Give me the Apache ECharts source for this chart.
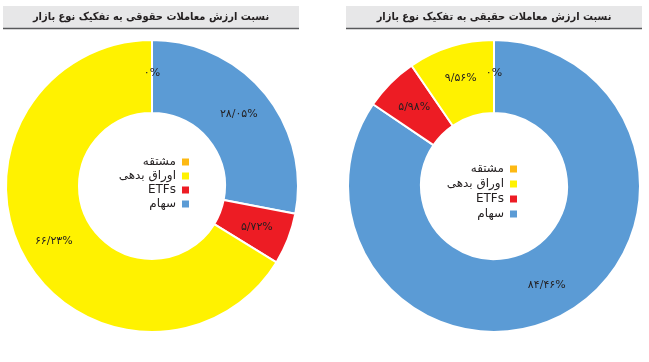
<!DOCTYPE html>
<html>
<head>
<meta charset="utf-8">
<script src="https://cdn.jsdelivr.net/npm/echarts@6/dist/echarts.min.js"></script>
<style>html,body{margin:0;padding:0;background:#fff;}#c{width:649px;height:362px;}</style>
</head>
<body>
<div id="c"></div>
<script>
const categories = ['سهام', 'ETFs', 'اوراق بدهی', 'مشتقه'];
const legendOrder = ['مشتقه', 'اوراق بدهی', 'ETFs', 'سهام'];
const legalValues = [28.05, 5.72, 66.23, 0];
const realValues = [84.46, 5.98, 9.56, 0];
const colors = ['#5B9BD5', '#ED1C24', '#FFF200', '#FDB913'];
const titleLegal = 'نسبت ارزش معاملات حقوقی به تفکیک نوع بازار';
const titleReal = 'نسبت ارزش معاملات حقیقی به تفکیک نوع بازار';

const fa = '۰۱۲۳۴۵۶۷۸۹';
function toFa(s){ return String(s).replace(/[0-9]/g, d => fa[+d]); }
function fmt(p){
  const v = p.value;
  const s = Number.isInteger(v) ? String(v) : v.toFixed(2).replace('.', '/');
  return toFa(s) + '%';
}
const font = 'DejaVu Sans';
function pieSeries(values, cx){
  return {
    type: 'pie',
    center: [cx, 186],
    radius: [73, 146],
    startAngle: 90,
    clockwise: true,
    avoidLabelOverlap: false,
    itemStyle: { borderColor: '#fff', borderWidth: 2 },
    label: { show: true, position: 'inside', formatter: fmt, color: '#231f20', fontSize: 11, fontFamily: font },
    labelLine: { show: false },
    emphasis: { disabled: true },
    data: categories.map((n, i) => ({ name: n, value: values[i], itemStyle: { color: colors[i] } }))
  };
}
function legend(right, top, gap){
  return {
    data: legendOrder, orient: 'vertical', right: right, top: top, align: 'right',
    icon: 'rect', itemWidth: 9, itemHeight: 9, itemGap: gap,
    textStyle: { fontSize: 12, fontFamily: font, color: '#231f20', padding: [0, 0, 0, 0] },
    selectedMode: false
  };
}
function titleBox(x, w, text){
  return [
    { type: 'rect', shape: { x: x, y: 6, width: w, height: 22 }, style: { fill: '#E7E7E8' }, silent: true },
    { type: 'line', shape: { x1: x, y1: 28.5, x2: x + w, y2: 28.5 }, style: { stroke: '#58595B', lineWidth: 1.5 }, silent: true },
    { type: 'text', x: x + w / 2, y: 17, style: { text: text, fontSize: 11, fontWeight: 'bold', fontFamily: '"DejaVu Sans Condensed", "DejaVu Sans"', fill: '#231f20', align: 'center', verticalAlign: 'middle' }, silent: true }
  ];
}
const chart = echarts.init(document.getElementById('c'));
chart.setOption({
  animation: false,
  legend: [legend(453, 151, 2), legend(125, 158, 3)],
  graphic: titleBox(3, 296, titleLegal).concat(titleBox(346, 296, titleReal)),
  series: [pieSeries(legalValues, 152), pieSeries(realValues, 494)]
});
</script>
</body>
</html>
